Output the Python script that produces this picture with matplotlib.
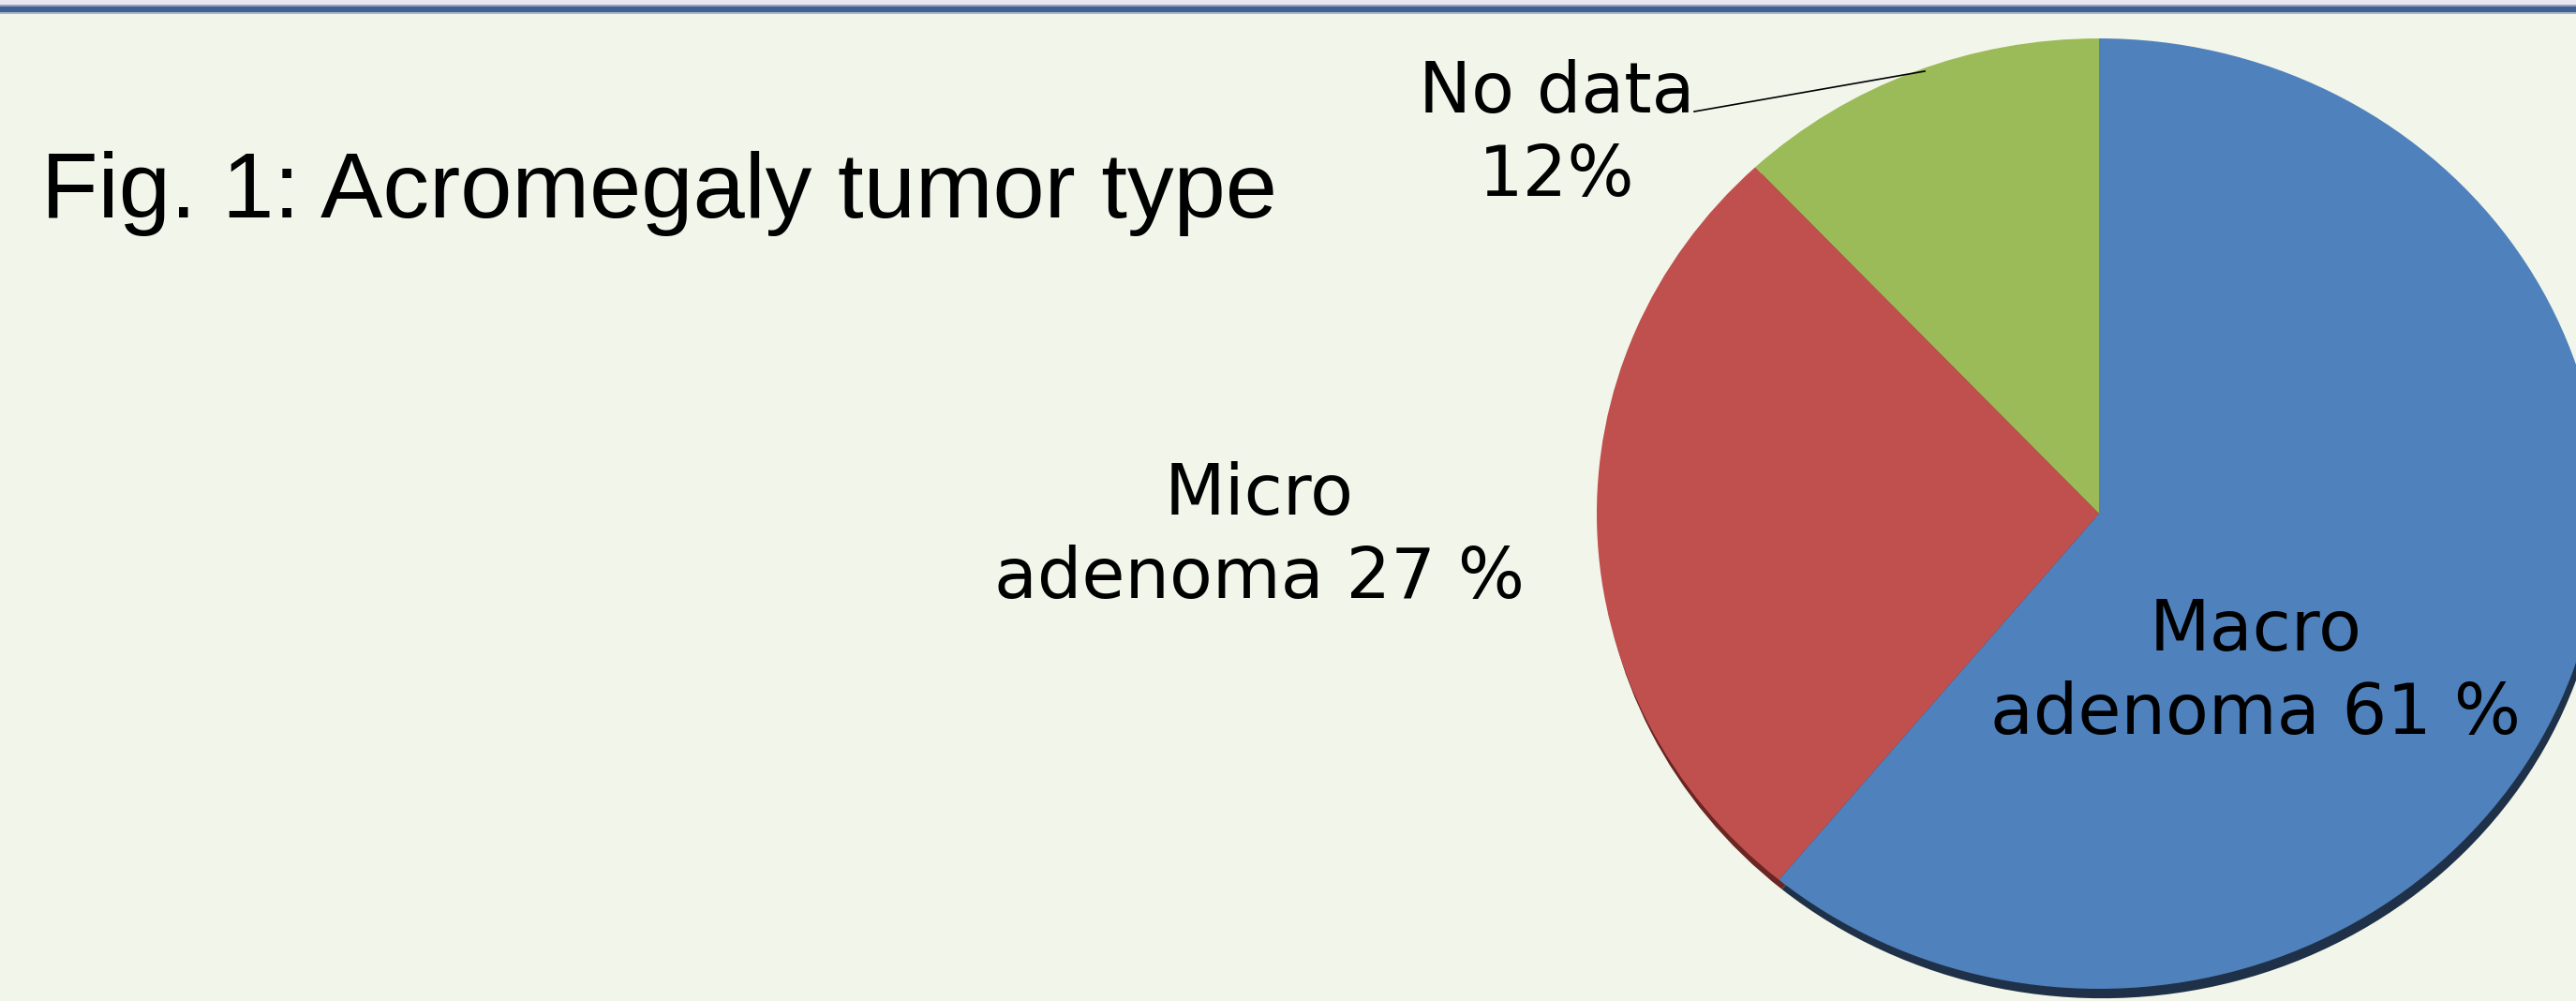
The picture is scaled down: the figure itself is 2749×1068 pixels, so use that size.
import matplotlib
matplotlib.use('Agg')
import matplotlib.pyplot as plt
from matplotlib.patches import Rectangle

# pie data, order as drawn counter-clockwise from the top
labels = ['No data\n12%', 'Micro\nadenoma 27 %', 'Macro\nadenoma 61 %']
shares = [12, 27, 61]
colors = ['#9BBB59', '#C0504D', '#4F81BD']
shadow_colors = ['#55682F', '#6B2523', '#1F3149']
title = 'Fig. 1: Acromegaly tumor type'

# label anchors in pixels (x centre, first baseline)
label_pos = [(1661, 120), (1344, 549), (2407, 694)]
line_gap = 89

W, H = 2749, 1068
bg = '#F2F5EA'
cx, cy, rx, ry = 2240, 548, 536, 507

fig = plt.figure(figsize=(W / 100, H / 100), dpi=100)
fig.patch.set_facecolor(bg)

# pie axes: one data unit = rx px across, ry px down
ax = fig.add_axes([0, 0, 1, 1])
ax.pie(shares, colors=shadow_colors, startangle=90, counterclock=True,
       radius=1, center=(0.006, -0.02), wedgeprops=dict(linewidth=0))
ax.pie(shares, colors=colors, startangle=90, counterclock=True,
       radius=1, center=(0, 0), wedgeprops=dict(linewidth=0))
ax.set_aspect('auto')
ax.set_xlim(-cx / rx, (W - cx) / rx)
ax.set_ylim(-(H - cy) / ry, cy / ry)
ax.axis('off')

# overlay in pixel coordinates for band and texts
ov = fig.add_axes([0, 0, 1, 1])
ov.set_xlim(0, W)
ov.set_ylim(H, 0)
ov.patch.set_alpha(0)
ov.axis('off')

ov.add_patch(Rectangle((0, 0), W, 5, color='#E9E5F1', linewidth=0))
ov.add_patch(Rectangle((0, 5), W, 2, color='#8FA3BF', linewidth=0))
ov.add_patch(Rectangle((0, 7), W, 6, color='#3E6092', linewidth=0))
ov.add_patch(Rectangle((0, 13), W, 1.5, color='#A9B9C9', linewidth=0))

ov.text(44, 232, title, fontsize=71.5, family='Liberation Sans',
        ha='left', va='baseline', color='black')

for lab, (x, y) in zip(labels, label_pos):
    for i, line in enumerate(lab.split('\n')):
        ov.text(x, y + i * line_gap, line, fontsize=54, family='DejaVu Sans',
                ha='center', va='baseline', color='black')

# leader line for the small slice
ov.plot([1808, 2054], [119, 76], color='black', linewidth=1.2)

plt.savefig('out.png', dpi=100, facecolor=bg)
